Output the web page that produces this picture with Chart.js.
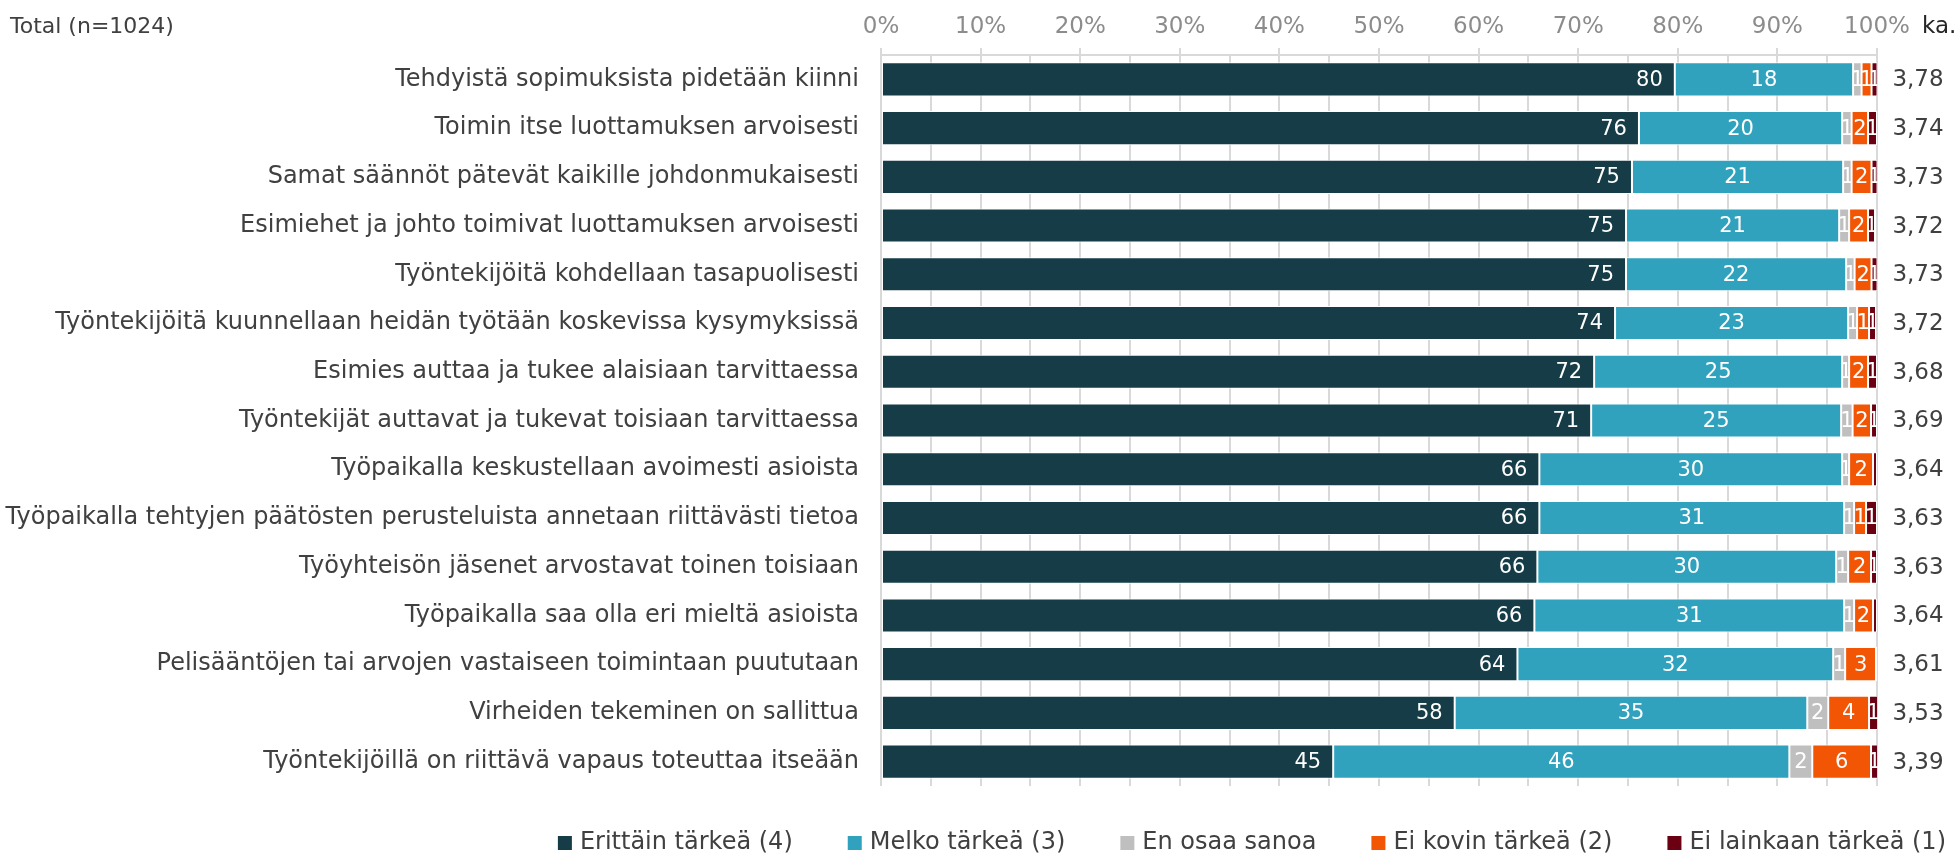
<!DOCTYPE html>
<html>
<head>
<meta charset="utf-8">
<script src="https://cdn.jsdelivr.net/npm/chart.js@4.4.1/dist/chart.umd.min.js"></script>
<style>
  html, body { margin: 0; padding: 0; background: #fff; }
  #wrap { width: 1957px; height: 859px; position: relative; }
</style>
</head>
<body>
<div id="wrap"><canvas id="chart"></canvas></div>
<script>
// kysymykset
const categories = [
  'Tehdyistä sopimuksista pidetään kiinni',
  'Toimin itse luottamuksen arvoisesti',
  'Samat säännöt pätevät kaikille johdonmukaisesti',
  'Esimiehet ja johto toimivat luottamuksen arvoisesti',
  'Työntekijöitä kohdellaan tasapuolisesti',
  'Työntekijöitä kuunnellaan heidän työtään koskevissa kysymyksissä',
  'Esimies auttaa ja tukee alaisiaan tarvittaessa',
  'Työntekijät auttavat ja tukevat toisiaan tarvittaessa',
  'Työpaikalla keskustellaan avoimesti asioista',
  'Työpaikalla tehtyjen päätösten perusteluista annetaan riittävästi tietoa',
  'Työyhteisön jäsenet arvostavat toinen toisiaan',
  'Työpaikalla saa olla eri mieltä asioista',
  'Pelisääntöjen tai arvojen vastaiseen toimintaan puututaan',
  'Virheiden tekeminen on sallittua',
  'Työntekijöillä on riittävä vapaus toteuttaa itseään'
];

// prosentit (%)
const erittainTarkea = [79.7, 76.1, 75.4, 74.8, 74.8, 73.7, 71.6, 71.3, 66.1, 66.1, 65.9, 65.6, 63.9, 57.6, 45.4];
const melkoTarkea    = [17.9, 20.4, 21.2, 21.4, 22.1, 23.4, 24.9, 25.1, 30.4, 30.6, 30.0, 31.1, 31.7, 35.4, 45.8];
const enOsaaSanoa    = [0.85, 0.95, 0.85, 1.0, 0.85, 0.9, 0.7, 1.15, 0.7, 1.0, 1.2, 1.0, 1.2, 2.1, 2.3];
const eiKovinTarkea  = [1.0, 1.65, 2.0, 1.9, 1.7, 1.2, 1.9, 1.85, 2.4, 1.2, 2.3, 1.9, 3.1, 4.1, 5.9];
const eiLainkaan     = [0.6, 0.9, 0.6, 0.7, 0.6, 0.7, 0.9, 0.6, 0.4, 1.1, 0.6, 0.4, 0.1, 0.9, 0.7];

// keskiarvot (ka.)
const keskiarvot = [3.78, 3.74, 3.73, 3.72, 3.73, 3.72, 3.68, 3.69, 3.64, 3.63, 3.63, 3.64, 3.61, 3.53, 3.39];

const FONT = 'DejaVu Sans';

// arvot palkkien sisään (ensimmäinen sarja palkin loppupäähän)
const segmentLabels = {
  id: 'segmentLabels',
  afterDatasetsDraw(chart) {
    const ctx = chart.ctx;
    ctx.save();
    ctx.font = '21px "' + FONT + '"';
    ctx.fillStyle = '#ffffff';
    ctx.textBaseline = 'middle';
    chart.data.datasets.forEach((ds, di) => {
      const meta = chart.getDatasetMeta(di);
      meta.data.forEach((bar, i) => {
        const v = ds.data[i];
        if (v < 0.5) return;
        const left = Math.min(bar.base, bar.x);
        const w = Math.abs(bar.x - bar.base);
        ctx.save();
        ctx.beginPath();
        ctx.rect(left, bar.y - bar.height / 2, w, bar.height);
        ctx.clip();
        if (di === 0) {
          ctx.textAlign = 'right';
          ctx.fillText(String(Math.round(v)), left + w - 12, bar.y + 1);
        } else {
          ctx.textAlign = 'center';
          ctx.fillText(String(Math.round(v)), left + w / 2, bar.y + 1);
        }
        ctx.restore();
      });
    });
    ctx.restore();
  }
};

// otsikot, ka.-sarake ja selite
const extras = {
  id: 'extras',
  afterDraw(chart) {
    const ctx = chart.ctx;
    const yScale = chart.scales.y;
    ctx.save();
    ctx.textBaseline = 'middle';

    ctx.font = '22px "' + FONT + '"';
    ctx.fillStyle = '#404040';
    ctx.textAlign = 'left';
    ctx.fillText('Total (n=1024)', 10, 27);

    ctx.font = '23px "' + FONT + '"';
    ctx.fillStyle = '#262626';
    ctx.fillText('ka.', 1922, 27);

    ctx.fillStyle = '#404040';
    ctx.textAlign = 'center';
    keskiarvot.forEach((k, i) => {
      ctx.fillText(k.toFixed(2).replace('.', ','), 1918, yScale.getPixelForValue(i) + 1);
    });

    // selite
    ctx.font = '24px "' + FONT + '"';
    ctx.textAlign = 'left';
    const box = 14, gap = 8, spacing = 55, ly = 843;
    const items = chart.data.datasets.map(ds => ({ text: ds.label, color: ds.backgroundColor }));
    let total = 0;
    items.forEach(it => { it.w = ctx.measureText(it.text).width; total += box + gap + it.w; });
    total += spacing * (items.length - 1);
    let x = 1946 - total;
    items.forEach(it => {
      ctx.fillStyle = it.color;
      ctx.fillRect(x, ly - box / 2, box, box);
      ctx.fillStyle = '#404040';
      ctx.fillText(it.text, x + box + gap, ly);
      x += box + gap + it.w + spacing;
    });
    ctx.restore();
  }
};

const ctx = document.getElementById('chart').getContext('2d');
new Chart(ctx, {
  type: 'bar',
  data: {
    labels: categories,
    datasets: [
      { label: 'Erittäin tärkeä (4)', data: erittainTarkea, backgroundColor: '#153c47' },
      { label: 'Melko tärkeä (3)', data: melkoTarkea, backgroundColor: '#31a2bd' },
      { label: 'En osaa sanoa', data: enOsaaSanoa, backgroundColor: '#bfbfbf' },
      { label: 'Ei kovin tärkeä (2)', data: eiKovinTarkea, backgroundColor: '#f25605' },
      { label: 'Ei lainkaan tärkeä (1)', data: eiLainkaan, backgroundColor: '#6a0012' }
    ]
  },
  options: {
    indexAxis: 'y',
    responsive: true,
    maintainAspectRatio: false,
    animation: false,
    devicePixelRatio: 1,
    datasets: {
      bar: {
        barPercentage: 0.7,
        categoryPercentage: 1,
        borderColor: '#ffffff',
        borderWidth: 1,
        borderSkipped: false
      }
    },
    layout: { padding: { left: 0, right: 80, top: 0, bottom: 73 } },
    scales: {
      x: {
        stacked: true,
        position: 'top',
        min: 0,
        max: 100,
        afterFit: s => { s.height = 55; },
        ticks: {
          stepSize: 5,
          autoSkip: false,
          maxRotation: 0,
          padding: 7,
          color: '#8c8c8c',
          font: { family: FONT, size: 23 },
          callback: v => (v % 10 === 0 ? v + '%' : '')
        },
        grid: {
          color: '#d9d9d9',
          lineWidth: 2,
          tickLength: 7,
          tickColor: c => (c.tick && c.tick.value % 10 === 0 ? '#d9d9d9' : 'rgba(0,0,0,0)')
        },
        border: { color: '#d9d9d9', width: 2 }
      },
      y: {
        stacked: true,
        afterFit: s => { s.width = 881; },
        grid: { display: false },
        border: { display: false },
        ticks: {
          padding: 14,
          color: '#404040',
          font: { family: FONT, size: 24 }
        }
      }
    },
    plugins: {
      legend: { display: false },
      tooltip: { enabled: false }
    }
  },
  plugins: [segmentLabels, extras]
});
</script>
</body>
</html>
